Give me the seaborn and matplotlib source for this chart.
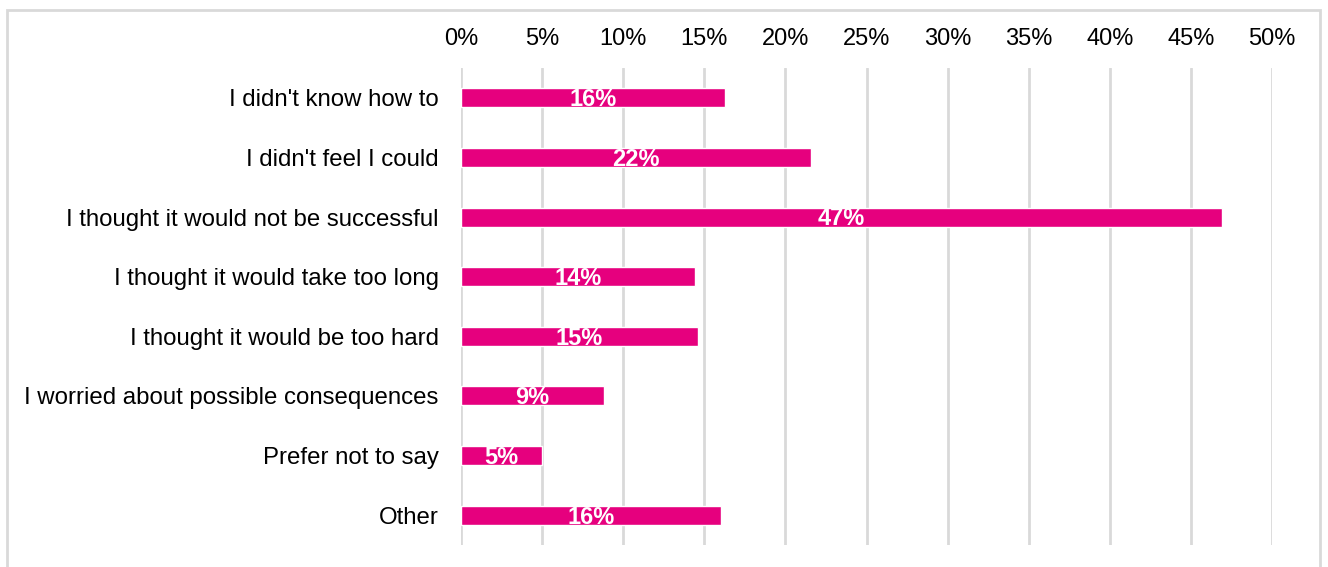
import matplotlib
matplotlib.use("Agg")
import matplotlib.pyplot as plt
from matplotlib.patches import Rectangle
from matplotlib.ticker import PercentFormatter, MultipleLocator
import seaborn as sns
import pandas as pd

reasons = [
    "I didn't know how to",
    "I didn't feel I could",
    "I thought it would not be successful",
    "I thought it would take too long",
    "I thought it would be too hard",
    "I worried about possible consequences",
    "Prefer not to say",
    "Other",
]
shares = [16.3, 21.6, 46.9, 14.4, 14.6, 8.8, 5.0, 16.0]

BAR_COLOR = "#E6007E"
GRID_COLOR = "#D9D9D9"

sns.set_theme(style="white")
plt.rcParams["font.family"] = ["Liberation Sans", "DejaVu Sans"]

df = pd.DataFrame({"reason": reasons, "share": shares})

fig = plt.figure(figsize=(13.28, 5.67), dpi=100)
ax = fig.add_axes([461 / 1328, 1 - 545 / 567, (1272 - 461) / 1328, (545 - 68) / 567])

sns.barplot(data=df, x="share", y="reason", color=BAR_COLOR, width=0.32,
            saturation=1, ax=ax, orient="h")

ax.set_xlim(0, 50)
ax.xaxis.set_major_locator(MultipleLocator(5))
ax.xaxis.set_major_formatter(PercentFormatter(decimals=0))
ax.xaxis.tick_top()
ax.tick_params(axis="x", length=0, pad=13, labelsize=17, labelcolor="#000000")
ax.tick_params(axis="y", length=0, pad=16, labelsize=17.3, labelcolor="#000000")
ax.set_xlabel("")
ax.set_ylabel("")
ax.grid(axis="x", color=GRID_COLOR, linewidth=2)
ax.set_axisbelow(True)
for side in ax.spines.values():
    side.set_visible(False)

# value labels in the middle of each bar, sitting on its lower edge
for i, v in enumerate(shares):
    ax.text(v / 2, i + 0.14, f"{v:.0f}%", ha="center", va="baseline",
            color="white", fontsize=17, fontweight="bold")

# light frame around the chart area
fig.patches.append(Rectangle((7 / 1328, -0.05), (1320 - 7) / 1328, 1.05 - 10 / 567,
                             transform=fig.transFigure, fill=False,
                             edgecolor=GRID_COLOR, linewidth=2, zorder=0))

fig.savefig("out.png", dpi=100, facecolor="white")
